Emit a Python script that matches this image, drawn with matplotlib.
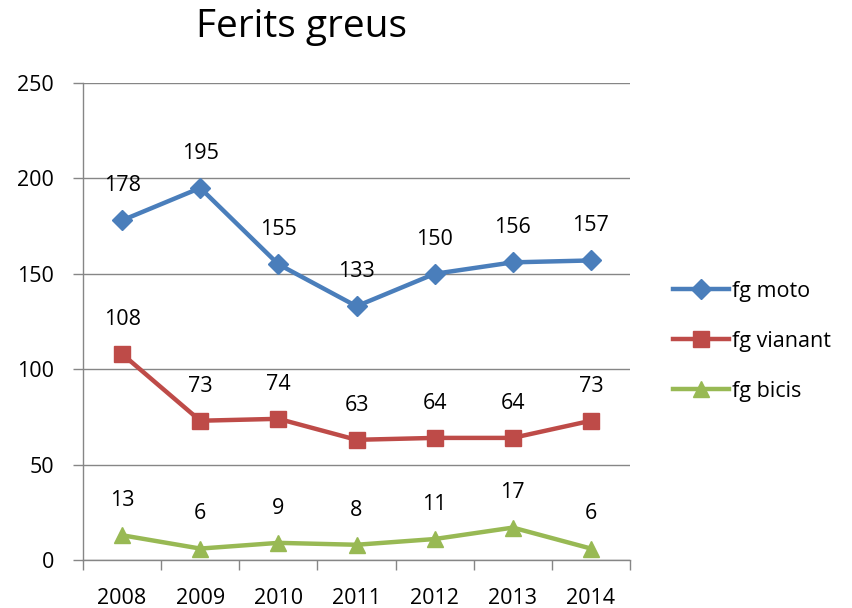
import matplotlib.pyplot as plt
from matplotlib.ticker import FixedLocator

years = ["2008", "2009", "2010", "2011", "2012", "2013", "2014"]
moto = [178, 195, 155, 133, 150, 156, 157]
vianant = [108, 73, 74, 63, 64, 64, 73]
bicis = [13, 6, 9, 8, 11, 17, 6]

plt.rcParams['font.family'] = ['Open Sans', 'DejaVu Sans']

fig = plt.figure(figsize=(8.53, 6.08), dpi=100)
ax = fig.add_axes([0.0973, 0.0789, 0.6413, 0.7846])

x = range(len(years))
series = [
    (moto, "fg moto", "#4A7EBB", "D", 10),
    (vianant, "fg vianant", "#BE4B48", "s", 11),
    (bicis, "fg bicis", "#98B954", "^", 12),
]
fs = 15.5
for vals, name, col, mk, ms in series:
    ax.plot(x, vals, color=col, lw=3.2, marker=mk, markersize=ms,
            markerfacecolor=col, markeredgecolor=col, label=name, zorder=3)
    for xi, v in zip(x, vals):
        ax.annotate(str(v), (xi, v), xytext=(0, 25), textcoords="offset points",
                    ha="center", va="center", fontsize=fs)

grid_col = "#868686"
ax.set_ylim(0, 250)
ax.set_xlim(-0.5, len(years) - 0.5)
ax.set_yticks(range(0, 251, 50))
ax.yaxis.grid(True, color=grid_col, lw=1)
ax.set_axisbelow(True)
ax.set_xticks(list(x))
ax.set_xticklabels(years)
ax.xaxis.set_minor_locator(FixedLocator([i - 0.5 for i in range(len(years) + 1)]))
ax.tick_params(axis="x", which="major", length=0, pad=20, labelsize=fs)
ax.tick_params(axis="x", which="minor", length=7, color=grid_col, width=1)
ax.tick_params(axis="y", length=7, color=grid_col, width=1, pad=14, labelsize=fs)
for s in ["top", "right"]:
    ax.spines[s].set_visible(False)
for s in ["left", "bottom"]:
    ax.spines[s].set_color(grid_col)
    ax.spines[s].set_linewidth(1)

fig.text(0.354, 0.955, "Ferits greus", ha="center", va="center", fontsize=28)

fig.legend(loc="center left", bbox_to_anchor=(0.779, 0.439), frameon=False,
           fontsize=fs, handlelength=2.6, handletextpad=0.15, labelspacing=1.35,
           borderaxespad=0)

fig.savefig("out.png", dpi=100)
